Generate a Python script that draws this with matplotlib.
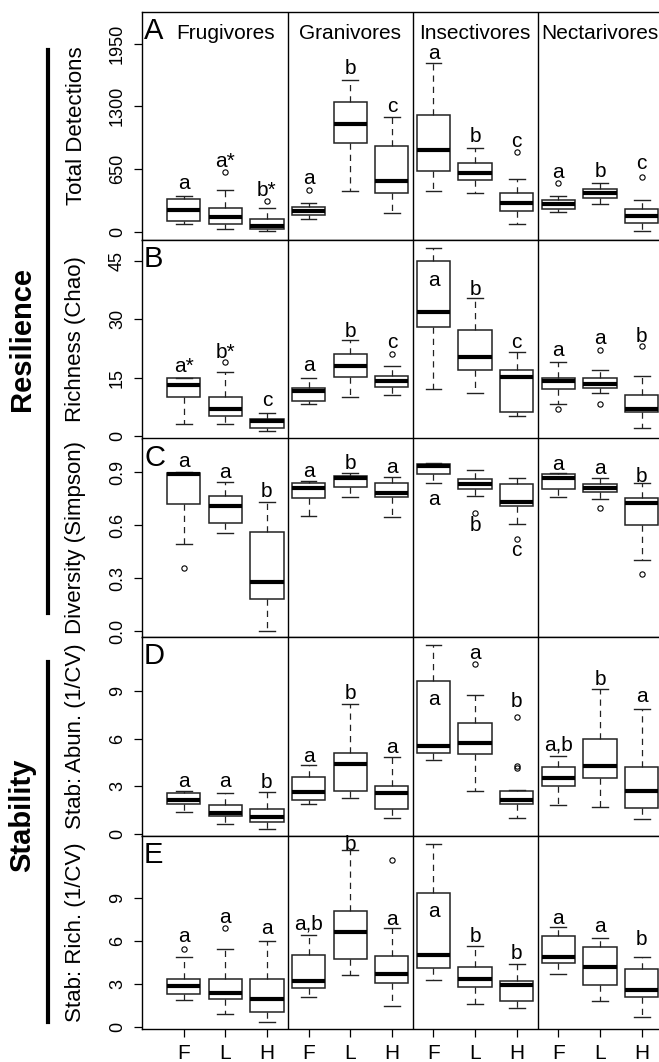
import numpy as np
import matplotlib
matplotlib.use('Agg')
import matplotlib.pyplot as plt
from matplotlib.lines import Line2D

plt.rcParams['font.family'] = ['Liberation Sans', 'DejaVu Sans']

# groups and treatments (F, L, H for each guild)
guilds = ['Frugivores', 'Granivores', 'Insectivores', 'Nectarivores']
treat = ['F', 'L', 'H']
panel_tags = ['A', 'B', 'C', 'D', 'E']
ylabels = ['Total Detections', 'Richness (Chao)', 'Diversity (Simpson)',
           'Stab: Abun. (1/CV)', 'Stab: Rich. (1/CV)']

# A - total detections
det_med = [228, 152, 59, 218, 1117, 526, 850, 612, 301, 290, 401, 163]
det_q1 = [114, 77, 31, 173, 916, 398, 626, 536, 215, 238, 352, 93]
det_q3 = [339, 246, 135, 256, 1345, 885, 1210, 715, 405, 329, 443, 238]
det_lo = [80, 25, 4, 135, 422, 191, 422, 398, 83, 201, 290, 10]
det_hi = [370, 429, 246, 298, 1573, 1186, 1752, 871, 546, 367, 505, 329]
det_out = [[], [616], [318], [429], [], [], [], [], [826], [508], [], [570]]
det_let = ['a', 'a*', 'b*', 'a', 'b', 'c', 'a', 'b', 'c', 'a', 'b', 'c']
det_let_y = [504, 726, 432, 554, 1687, 1296, 1850, 985, 933, 616, 622, 709]

# B - richness (Chao)
rich_med = [13.07, 7.06, 3.79, 11.6, 18.0, 14.1, 32.0, 20.3, 15.1, 14.1, 13.5, 7.06]
rich_q1 = [10.05, 5.08, 2.16, 9.02, 15.2, 12.55, 28.0, 16.9, 6.1, 12.04, 12.4, 6.1]
rich_q3 = [15.05, 10.05, 4.48, 12.47, 21.2, 15.5, 45.0, 27.4, 17.1, 15.05, 15.05, 10.6]
rich_lo = [3.2, 3.2, 1.21, 8.17, 10.05, 10.67, 12.0, 11.1, 5.15, 8.35, 11.1, 2.16]
rich_hi = [15.05, 16.5, 6.03, 15.05, 24.7, 18.0, 48.3, 35.4, 21.5, 19.0, 16.9, 15.4]
rich_out = [[], [19.07], [], [], [], [21.2], [], [], [], [7.06], [22.1, 8.17], [23.1]]
rich_let = ['a*', 'b*', 'c', 'a', 'b', 'c', 'a', 'b', 'c', 'a', 'a', 'b']
rich_let_y = [17.8, 21.6, 9.2, 18.2, 26.8, 24.0, 40.0, 37.7, 24.0, 22.1, 25.2, 25.7]

# C - diversity (Simpson)
div_med = [0.892, 0.708, 0.28, 0.811, 0.868, 0.782, 0.938, 0.835, 0.731, 0.868, 0.811, 0.726]
div_q1 = [0.722, 0.615, 0.184, 0.754, 0.816, 0.76, 0.892, 0.805, 0.71, 0.807, 0.792, 0.602]
div_q3 = [0.896, 0.769, 0.564, 0.843, 0.882, 0.843, 0.949, 0.862, 0.834, 0.89, 0.834, 0.757]
div_lo = [0.493, 0.555, 0.002, 0.655, 0.76, 0.646, 0.839, 0.769, 0.608, 0.763, 0.75, 0.403]
div_hi = [0.9, 0.845, 0.735, 0.852, 0.896, 0.877, 0.952, 0.915, 0.868, 0.896, 0.871, 0.839]
div_out = [[0.356], [], [], [], [], [], [], [0.669], [0.521], [], [0.697], [0.322]]
div_let = ['a', 'a', 'b', 'a', 'b', 'a', 'a', 'b', 'c', 'a', 'a', 'b']
div_let_y = [0.962, 0.902, 0.79, 0.905, 0.953, 0.928, 0.748, 0.598, 0.456, 0.947, 0.924, 0.877]

# D - stability of abundance
sab_med = [2.14, 1.3, 1.09, 2.64, 4.38, 2.6, 5.53, 5.7, 2.14, 3.54, 4.28, 2.72]
sab_q1 = [1.87, 1.13, 0.75, 2.14, 2.7, 1.59, 5.11, 5.03, 1.89, 3.04, 3.5, 1.62]
sab_q3 = [2.56, 1.82, 1.57, 3.6, 5.08, 3.0, 9.6, 7.0, 2.7, 4.23, 5.96, 4.19]
sab_lo = [1.38, 0.61, 0.31, 1.89, 2.28, 1.03, 4.65, 2.72, 0.99, 1.8, 1.72, 0.92]
sab_hi = [2.72, 2.56, 2.64, 4.34, 8.18, 4.82, 11.89, 8.74, 2.75, 4.9, 9.1, 7.84]
sab_out = [[], [], [], [], [], [], [], [10.67], [4.15, 4.25, 7.34], [], [], []]
sab_let = ['a', 'a', 'b', 'a', 'b', 'a', 'a', 'a', 'b', 'a,b', 'b', 'a']
sab_let_y = [3.29, 3.29, 3.23, 4.9, 8.85, 5.45, 8.47, 11.36, 8.32, 5.6, 9.73, 8.68]

# E - stability of richness
sri_med = [2.9, 2.41, 1.97, 3.25, 6.67, 3.72, 5.04, 3.35, 2.93, 4.93, 4.19, 2.6]
sri_q1 = [2.3, 1.97, 1.09, 2.72, 4.74, 3.07, 4.14, 2.81, 1.86, 4.47, 2.95, 2.09]
sri_q3 = [3.37, 3.35, 3.35, 5.04, 8.14, 4.97, 9.35, 4.19, 3.23, 6.37, 5.58, 4.09]
sri_lo = [1.88, 0.93, 0.35, 2.13, 3.65, 1.51, 3.3, 1.63, 1.33, 3.72, 1.86, 0.7]
sri_hi = [4.93, 5.48, 6.02, 6.44, 12.37, 6.91, 12.79, 5.67, 4.42, 6.98, 6.25, 4.93]
sri_out = [[5.46], [6.95], [], [], [], [11.67], [], [], [], [], [], []]
sri_let = ['a', 'a', 'a', 'a,b', 'b', 'a', 'a', 'b', 'b', 'a', 'a', 'b']
sri_let_y = [6.37, 7.67, 6.86, 7.19, 12.79, 7.53, 8.07, 6.37, 5.16, 7.6, 7.02, 6.14]

ylims = [(-86, 2277), (-0.6, 50.4), (-0.034, 1.093), (-0.13, 12.4), (-0.12, 13.35)]
yticks = [[0, 650, 1300, 1950], [0, 15, 30, 45], [0, 0.3, 0.6, 0.9], [0, 3, 6, 9], [0, 3, 6, 9]]
yticklabels = [['0', '650', '1300', '1950'], ['0', '15', '30', '45'],
               ['0.0', '0.3', '0.6', '0.9'], ['0', '3', '6', '9'], ['0', '3', '6', '9']]

panels = [
    (det_med, det_q1, det_q3, det_lo, det_hi, det_out, det_let, det_let_y),
    (rich_med, rich_q1, rich_q3, rich_lo, rich_hi, rich_out, rich_let, rich_let_y),
    (div_med, div_q1, div_q3, div_lo, div_hi, div_out, div_let, div_let_y),
    (sab_med, sab_q1, sab_q3, sab_lo, sab_hi, sab_out, sab_let, sab_let_y),
    (sri_med, sri_q1, sri_q3, sri_lo, sri_hi, sri_out, sri_let, sri_let_y),
]

# layout in pixels
W, H = 659, 1062
rows = [(12, 240), (240, 438.5), (438.5, 637), (637, 836), (836, 1029)]
x0, unit, xmax = 142, 41.64, 13
pos = np.arange(1, 13)

fig = plt.figure(figsize=(W / 100, H / 100), dpi=100)

for i, (top, bot) in enumerate(rows):
    ax = fig.add_axes([x0 / W, 1 - bot / H, xmax * unit / W, (bot - top) / H])
    med, q1, q3, lo, hi, out, let, let_y = panels[i]
    stats = [dict(med=med[k], q1=q1[k], q3=q3[k], whislo=lo[k], whishi=hi[k],
                  fliers=out[k]) for k in range(12)]
    ax.bxp(stats, positions=pos, widths=0.8, capwidths=0.38, patch_artist=True,
           boxprops=dict(facecolor='white', edgecolor='#222222', linewidth=1.1),
           medianprops=dict(color='black', linewidth=3.0, solid_capstyle='butt'),
           whiskerprops=dict(color='#222222', linewidth=0.9, linestyle=(0, (5, 4))),
           capprops=dict(color='#222222', linewidth=1.0),
           flierprops=dict(marker='o', markerfacecolor='none', markeredgecolor='black',
                           markersize=3.8, markeredgewidth=0.8),
           manage_ticks=False)
    for k in range(12):
        ax.text(pos[k], let_y[k], let[k], ha='center', va='center', fontsize=15)
    for xv in [3.5, 6.5, 9.5]:
        ax.axvline(xv, color='black', lw=1.0)

    ax.set_xlim(0, xmax)
    ax.set_ylim(*ylims[i])
    ax.set_yticks(yticks[i])
    ax.set_yticklabels(yticklabels[i], rotation=90, va='center')
    ax.tick_params(axis='y', direction='out', length=5.5, width=0.9, pad=6, labelsize=13)
    for sp in ['left', 'top', 'bottom']:
        ax.spines[sp].set_linewidth(1.0)
    ax.spines['right'].set_visible(False)

    if i == len(rows) - 1:
        ax.set_xticks(pos)
        ax.set_xticklabels(treat * 4)
        ax.tick_params(axis='x', direction='out', length=6, width=0.9, pad=5, labelsize=15)
    else:
        ax.set_xticks([])

    ax.annotate(panel_tags[i], xy=(0, 1), xycoords='axes fraction', xytext=(1.5, -19.5),
                textcoords='offset points', ha='left', va='baseline', fontsize=21)
    if i == 0:
        for g, name in enumerate(guilds):
            ax.annotate(name, xy=(3 * g + 2, 1), xycoords=('data', 'axes fraction'),
                        xytext=(0, -19.5), textcoords='offset points',
                        ha='center', va='baseline', fontsize=15)

    fig.text(76 / W, 1 - (top + bot) / 2 / H, ylabels[i], rotation=90,
             ha='center', va='center', fontsize=16)

# section labels on the far left
fig.text(22 / W, 1 - 339 / H, 'Resilience', rotation=90, ha='center', va='center',
         fontsize=21, fontweight='bold')
fig.text(22 / W, 1 - 815 / H, 'Stability', rotation=90, ha='center', va='center',
         fontsize=21, fontweight='bold')
fig.add_artist(Line2D([48 / W, 48 / W], [1 - 50 / H, 1 - 613 / H], color='black', lw=3,
                      transform=fig.transFigure))
fig.add_artist(Line2D([48 / W, 48 / W], [1 - 662 / H, 1 - 1022 / H], color='black', lw=3,
                      transform=fig.transFigure))

fig.savefig('out.png', dpi=100)
